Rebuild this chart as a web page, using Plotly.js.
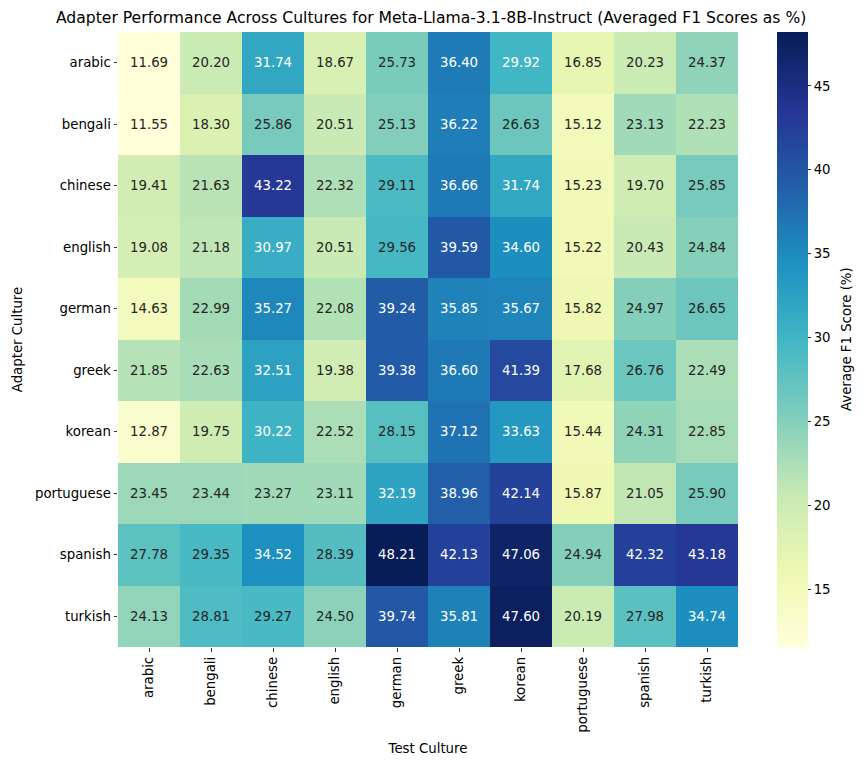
<!DOCTYPE html>
<html>
<head>
<meta charset="utf-8">
<script src="https://cdn.plot.ly/plotly-3.0.1.min.js"></script>
<style>html,body{margin:0;padding:0;background:#fff;}#chart{width:864px;height:766px;}</style>
</head>
<body>
<div id="chart"></div>
<script>
const testCultures = ["arabic","bengali","chinese","english","german","greek","korean","portuguese","spanish","turkish"];
const adapterCultures = ["arabic","bengali","chinese","english","german","greek","korean","portuguese","spanish","turkish"];
const row_arabic     = [11.69, 20.20, 31.74, 18.67, 25.73, 36.40, 29.92, 16.85, 20.23, 24.37];
const row_bengali    = [11.55, 18.30, 25.86, 20.51, 25.13, 36.22, 26.63, 15.12, 23.13, 22.23];
const row_chinese    = [19.41, 21.63, 43.22, 22.32, 29.11, 36.66, 31.74, 15.23, 19.70, 25.85];
const row_english    = [19.08, 21.18, 30.97, 20.51, 29.56, 39.59, 34.60, 15.22, 20.43, 24.84];
const row_german     = [14.63, 22.99, 35.27, 22.08, 39.24, 35.85, 35.67, 15.82, 24.97, 26.65];
const row_greek      = [21.85, 22.63, 32.51, 19.38, 39.38, 36.60, 41.39, 17.68, 26.76, 22.49];
const row_korean     = [12.87, 19.75, 30.22, 22.52, 28.15, 37.12, 33.63, 15.44, 24.31, 22.85];
const row_portuguese = [23.45, 23.44, 23.27, 23.11, 32.19, 38.96, 42.14, 15.87, 21.05, 25.90];
const row_spanish    = [27.78, 29.35, 34.52, 28.39, 48.21, 42.13, 47.06, 24.94, 42.32, 43.18];
const row_turkish    = [24.13, 28.81, 29.27, 24.50, 39.74, 35.81, 47.60, 20.19, 27.98, 34.74];
const colorbarTicks = [15, 20, 25, 30, 35, 40, 45];

const z = [row_arabic,row_bengali,row_chinese,row_english,row_german,row_greek,row_korean,row_portuguese,row_spanish,row_turkish];

const ylgnbu = ["#ffffd9","#edf8b1","#c7e9b4","#7fcdbb","#41b6c4","#1d91c0","#225ea8","#253494","#081d58"];
const colorscale = ylgnbu.map((c,i)=>[i/(ylgnbu.length-1), c]);

let zmin = Infinity, zmax = -Infinity;
z.forEach(r=>r.forEach(v=>{ if(v<zmin) zmin=v; if(v>zmax) zmax=v; }));

const FONT = "DejaVu Sans, sans-serif";

const annotations = [];
z.forEach((r,i)=>r.forEach((v,j)=>{
  annotations.push({
    x: testCultures[j], y: adapterCultures[i], xref:'x', yref:'y',
    text: v.toFixed(2), showarrow:false,
    font:{family:FONT, size:13.3, color: v >= 29.7 ? '#ffffff' : '#262626'}
  });
}));
annotations.push({
  xref:'paper', yref:'paper', x: 1.175, y: 0.5, xanchor:'center', yanchor:'middle',
  text:'Average F1 Score (%)', textangle:-90, showarrow:false,
  font:{family:FONT, size:13.3, color:'#000'}
});

const trace = {
  type:'heatmap', x: testCultures, y: adapterCultures, z: z,
  colorscale: colorscale, zmin: zmin, zmax: zmax,
  xgap:0, ygap:0, hoverinfo:'skip',
  colorbar:{
    x: 1.063, xanchor:'left', xref:'paper',
    y: 0.5, yanchor:'middle', len:1, lenmode:'fraction',
    thickness:31, thicknessmode:'pixels',
    outlinewidth:0, borderwidth:0,
    tickmode:'array', tickvals: colorbarTicks, ticktext: colorbarTicks.map(String),
    ticks:'outside', ticklen:3.5, tickwidth:0.8, tickcolor:'#000',
    tickfont:{family:FONT, size:13.3, color:'#000'},
    xpad:0, ypad:0
  }
};

const layout = {
  width:864, height:766,
  margin:{l:118, r:126, t:32, b:119, pad:0},
  paper_bgcolor:'#fff', plot_bgcolor:'#fff',
  title:{text:'Adapter Performance Across Cultures for Meta-Llama-3.1-8B-Instruct (Averaged F1 Scores as %)',
         font:{family:FONT, size:15.6, color:'#000'}, x:0.499, xanchor:'center', y:0.977, yanchor:'middle'},
  xaxis:{type:'category', title:{text:'Test Culture', font:{family:FONT, size:13.3, color:'#000'}, standoff:12},
         tickangle:-90, ticks:'outside', ticklen:3.5, tickwidth:0.8, tickcolor:'#000',
         tickfont:{family:FONT, size:13.3, color:'#000'}, showgrid:false, zeroline:false, showline:false},
  yaxis:{type:'category', autorange:'reversed', title:{text:'Adapter Culture', font:{family:FONT, size:13.3, color:'#000'}, standoff:9},
         ticks:'outside', ticklen:3.5, tickwidth:0.8, tickcolor:'#000',
         tickfont:{family:FONT, size:13.3, color:'#000'}, showgrid:false, zeroline:false, showline:false},
  annotations: annotations,
  font:{family:FONT}
};

Plotly.newPlot('chart', [trace], layout, {displayModeBar:false, staticPlot:true});
</script>
</body>
</html>
